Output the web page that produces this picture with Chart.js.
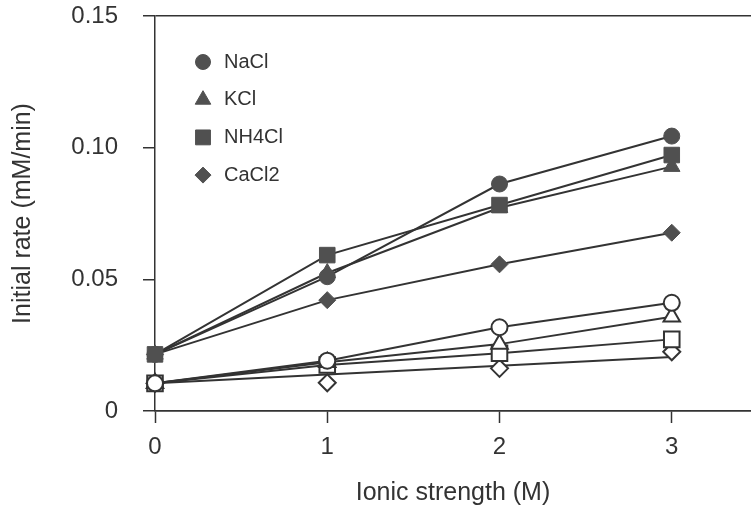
<!DOCTYPE html>
<html>
<head>
<meta charset="utf-8">
<script src="https://cdn.jsdelivr.net/npm/chart.js"></script>
<style>
  body { margin: 0; background: #fff; }
  #wrap { width: 751px; height: 511px; }
</style>
</head>
<body>
<div id="wrap"><canvas id="myChart" width="751" height="511"></canvas></div>
<script>
// ionic strength (M)
const ionic = [0, 1, 2, 3];
const salts = ['NaCl', 'KCl', 'NH4Cl', 'CaCl2'];

// initial rate (mM/min), filled symbols
const naclFilled  = [0.0215, 0.0510, 0.0862, 0.1044];
const kclFilled   = [0.0215, 0.0524, 0.0772, 0.0928];
const nh4clFilled = [0.0215, 0.0592, 0.0782, 0.0972];
const cacl2Filled = [0.0215, 0.0421, 0.0557, 0.0677];

// initial rate (mM/min), open symbols
const naclOpen  = [0.0105, 0.0191, 0.0318, 0.0411];
const kclOpen   = [0.0105, 0.0185, 0.0254, 0.0358];
const nh4clOpen = [0.0105, 0.0175, 0.0219, 0.0272];
const cacl2Open = [0.0105, 0.0107, 0.0162, 0.0225];
// the open CaCl2 line is a straight line, not through the points
const cacl2OpenLineX = [0, 3];
const cacl2OpenLineY = [0.0105, 0.0205];

const yTicks = [0, 0.05, 0.10, 0.15];

const INK = '#333333';
const FILL = '#505050';
const FONT = "'Liberation Sans', Arial, sans-serif";

const styles = { NaCl: 'circle', KCl: 'triangle', NH4Cl: 'rect', CaCl2: 'rectRot' };
const radii  = { circle: 8, triangle: 9.5, rect: 11, rectRot: 8.5 };

function pts(xs, ys) {
    return ys.map((y, i) => ({ x: xs[i], y: y }));
}

function series(label, ys, filled, order) {
    const style = styles[label];
    return {
        label: label,
        data: pts(ionic, ys),
        order: order,
        borderColor: INK,
        borderWidth: 2,
        pointStyle: style,
        pointRadius: radii[style],
        pointBackgroundColor: filled ? FILL : '#ffffff',
        pointBorderColor: filled ? FILL : INK,
        pointBorderWidth: filled ? 1 : 2,
        showLine: true,
        clip: false
    };
}

const datasets = [
    series('NH4Cl', nh4clFilled, true, 1),
    series('NaCl', naclFilled, true, 2),
    series('KCl', kclFilled, true, 3),
    series('CaCl2', cacl2Filled, true, 4),
    series('NaCl', naclOpen, false, 5),
    series('KCl', kclOpen, false, 6),
    series('NH4Cl', nh4clOpen, false, 7),
    Object.assign(series('CaCl2', cacl2Open, false, 8), { showLine: false }),
    {
        label: 'CaCl2 line',
        data: pts(cacl2OpenLineX, cacl2OpenLineY),
        order: 9,
        borderColor: INK,
        borderWidth: 2,
        pointRadius: 0,
        clip: false
    }
];

// legend drawn inside the plot area, top left
const insetLegend = {
    id: 'insetLegend',
    afterDraw(chart) {
        const ctx = chart.ctx;
        const area = chart.chartArea;
        ctx.save();
        salts.forEach((name, i) => {
            const x = area.left + 48;
            const y = area.top + 46 + i * 37.7;
            const style = styles[name];
            ctx.fillStyle = FILL;
            ctx.strokeStyle = FILL;
            ctx.lineWidth = 1;
            Chart.helpers.drawPoint(ctx, { pointStyle: style, radius: radii[style] - 0.5, rotation: 0, borderWidth: 1 }, x, y);
            ctx.fillStyle = INK;
            ctx.font = '20px ' + FONT;
            ctx.textBaseline = 'middle';
            ctx.textAlign = 'left';
            ctx.fillText(name, x + 21, y);
        });
        ctx.restore();
    }
};

function createChart() {
    const ctx = document.getElementById('myChart').getContext('2d');
    new Chart(ctx, {
        type: 'line',
        data: { datasets: datasets },
        options: {
            responsive: false,
            animation: false,
            layout: {
                autoPadding: false,
                padding: { top: 16, right: 0, left: 0, bottom: 0 }
            },
            plugins: {
                legend: { display: false },
                tooltip: { enabled: false }
            },
            scales: {
                x: {
                    type: 'linear',
                    min: 0,
                    max: 3.46,
                    afterFit: s => {
                        s.height = 100;
                        s.paddingLeft = 0;
                        s.paddingRight = 0;
                    },
                    ticks: {
                        stepSize: 1,
                        includeBounds: false,
                        maxRotation: 0,
                        color: INK,
                        font: { family: FONT, size: 24 },
                        padding: 10
                    },
                    grid: {
                        drawOnChartArea: false,
                        tickLength: 12,
                        tickColor: INK,
                        tickWidth: 1.5
                    },
                    border: { color: INK, width: 1.5 },
                    title: {
                        display: true,
                        text: 'Ionic strength (M)',
                        color: INK,
                        font: { family: FONT, size: 25 },
                        padding: { top: 0, bottom: 3 }
                    }
                },
                y: {
                    type: 'linear',
                    min: 0,
                    max: 0.15,
                    afterFit: s => {
                        s.width = 155;
                        s.paddingTop = 0;
                        s.paddingBottom = 0;
                    },
                    afterBuildTicks: s => { s.ticks = yTicks.map(v => ({ value: v })); },
                    ticks: {
                        color: INK,
                        font: { family: FONT, size: 24 },
                        padding: 25,
                        callback: v => v === 0 ? '0' : v.toFixed(2)
                    },
                    grid: {
                        drawOnChartArea: true,
                        color: c => (c.tick && (c.tick.value === 0 || Math.abs(c.tick.value - 0.15) < 1e-9)) ? INK : 'rgba(0,0,0,0)',
                        lineWidth: 1.5,
                        tickLength: 12,
                        tickColor: INK,
                        tickWidth: 1.5
                    },
                    border: { color: INK, width: 1.5 },
                    title: {
                        display: true,
                        text: 'Initial rate (mM/min)',
                        color: INK,
                        font: { family: FONT, size: 25 },
                        padding: { top: 8, bottom: 0 }
                    }
                }
            }
        },
        plugins: [insetLegend]
    });
}

document.addEventListener("DOMContentLoaded", createChart);
</script>
</body>
</html>
